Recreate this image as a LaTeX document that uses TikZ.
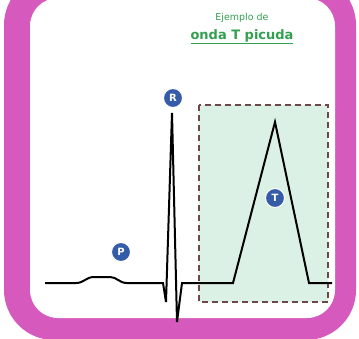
\documentclass[tikz,border=0pt]{standalone}
\usepackage{fontspec}
\setmainfont{DejaVu Sans}
\usetikzlibrary{positioning}
\definecolor{framepink}{RGB}{214, 90, 190}
\definecolor{peakfill}{RGB}{220, 241, 229}
\definecolor{peakborder}{RGB}{110, 72, 72}
\definecolor{markblue}{RGB}{52, 92, 168}
\definecolor{titlegreen}{RGB}{50, 160, 80}

\begin{document}
\begin{tikzpicture}[
  x=1pt, y=-1pt,
  wave/.style={
    black,
    line width=2pt,
    line join=miter
  },
  wavemark/.style={
    circle,
    fill=markblue,
    draw=white,
    line width=1pt,
    minimum size=19pt,
    inner sep=0pt,
    text=white,
    font=\fontsize{10}{10}\selectfont\bfseries
  }
]

  \useasboundingbox (0,0) rectangle (359,338);
  \clip (0,0) rectangle (359,338);

  % Frame
  \fill[framepink, rounded corners=50pt] (4,-25) rectangle (356,340);
  \fill[white, rounded corners=28pt] (30,-2) rectangle (335,318);

  % Title
  \node[text=titlegreen, font=\fontsize{9.5}{10}\selectfont] (pre) at (242,18) {Ejemplo de};
  \node[text=titlegreen, font=\fontsize{13}{14}\selectfont\bfseries, below=0pt of pre] (title) {\underline{onda T picuda}};

  % Highlighted T wave
  \draw[peakborder, fill=peakfill, line width=1.8pt, dash pattern=on 6pt off 4pt] (199,105) rectangle (328,302);

  % ECG trace
  \draw[wave] (45,283) -- (76,283)
    .. controls (84,283) and (86,277) .. (94,277) -- (110,277)
    .. controls (117,277) and (119,283) .. (127,283)
    -- (163,283) -- (166,302) -- (172,113) -- (177,322) -- (182,283)
    -- (233,283) -- (275,122) -- (309,283) -- (332,283);

  % Wave labels
  \node[wavemark] (r) at (173,98) {R};
  \node[wavemark] (p) at (121,252) {P};
  \node[wavemark] (t) at (275,198) {T};

\end{tikzpicture}
\end{document}
